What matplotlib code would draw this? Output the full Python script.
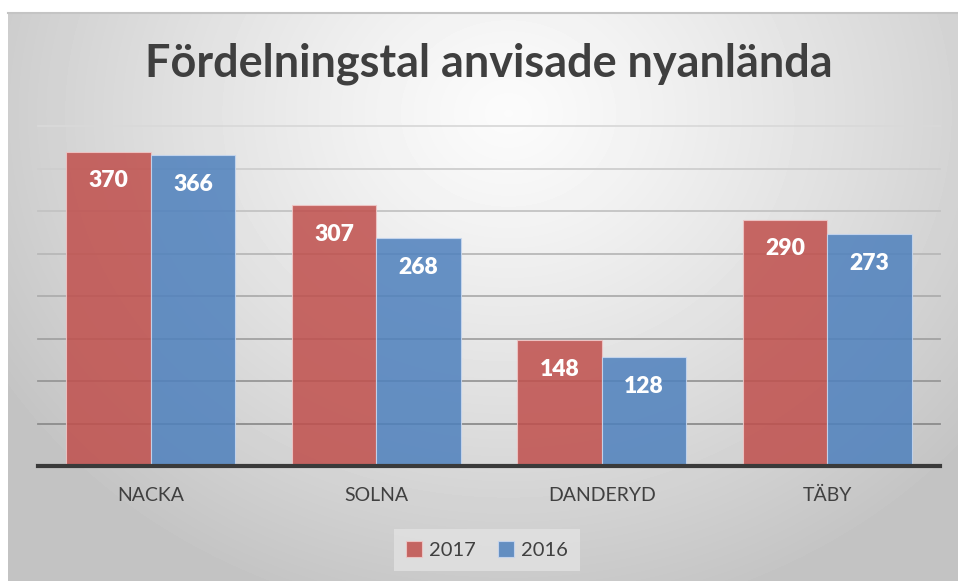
import numpy as np
import matplotlib.pyplot as plt

plt.rcParams['font.family'] = ['Lato', 'DejaVu Sans']

kommuner = ['NACKA', 'SOLNA', 'DANDERYD', 'TÄBY']
v2017 = [370, 307, 148, 290]
v2016 = [366, 268, 128, 273]

W, H = 958, 581
fig = plt.figure(figsize=(W / 100, H / 100), dpi=100)
fig.patch.set_facecolor('white')

# radial gradient background for the chart area
bg = fig.add_axes([8 / W, 0, 1 - 8 / W, (H - 13) / H])
bg.set_axis_off()
yy, xx = np.mgrid[0:568, 0:950]
r = np.sqrt(((xx - 500) / 600.0) ** 2 + ((yy - 100) / 520.0) ** 2)
r = np.clip(r, 0, 1)
val = 0.985 - 0.22 * r ** 1.2
bg.imshow(val, cmap='gray', vmin=0, vmax=1, aspect='auto',
          extent=[0, 1, 0, 1], origin='upper')
bg.plot([0, 1], [1, 1], color='#c4c4c4', lw=1.5, transform=bg.transAxes,
        clip_on=False)
bg.set_xlim(0, 1)
bg.set_ylim(0, 1)

ax = fig.add_axes([38 / W, 115 / H, 902 / W, 340 / H])
ax.patch.set_alpha(0)
for s in ax.spines.values():
    s.set_visible(False)

ticks = np.arange(50, 401, 50)
for i, t in enumerate(ticks):
    f = i / (len(ticks) - 1)
    c = 0.55 + 0.30 * f
    ax.axhline(t, color=(c, c, c), lw=1.3, zorder=1, clip_on=False)
ax.axhline(0, color='#3a3a3a', lw=3, zorder=4, clip_on=False)

x = np.arange(len(kommuner))
w = 0.375
b1 = ax.bar(x - w / 2, v2017, w, color='#C0504D', alpha=0.86,
            edgecolor='#f0c8c8', lw=0.8, zorder=2, label='2017')
b2 = ax.bar(x + w / 2, v2016, w, color='#4F81BD', alpha=0.86,
            edgecolor='#c8d8f0', lw=0.8, zorder=2, label='2016')

for bars in (b1, b2):
    for rect in bars:
        ax.annotate(f'{int(rect.get_height())}',
                    (rect.get_x() + rect.get_width() / 2, rect.get_height()),
                    xytext=(0, -21), textcoords='offset points',
                    ha='center', va='center', color='white',
                    fontsize=16.5, fontweight='heavy', zorder=5)

ax.set_xlim(-0.5, len(kommuner) - 0.5)
ax.set_ylim(0, 400)
ax.set_yticks([])
ax.set_xticks(x)
ax.set_xticklabels(kommuner, fontsize=14, color='#404040')
ax.tick_params(axis='x', length=0, pad=15)

fig.text(489 / W, 1 - 64 / H, 'Fördelningstal anvisade nyanlända',
         ha='center', va='center', fontsize=32.4, fontweight='bold',
         color='#3f3f3f')

leg = fig.legend(handles=[b1, b2], loc='center', ncol=2,
                 bbox_to_anchor=(487 / W, 1 - 550 / H), frameon=True,
                 fontsize=14.5, handlelength=0.8, handleheight=0.8,
                 handletextpad=0.35, columnspacing=1.1,
                 borderpad=0.6)
leg.get_frame().set_facecolor('#e2e2e2')
leg.get_frame().set_edgecolor('none')
leg.get_frame().set_boxstyle('square', pad=0)
for t in leg.get_texts():
    t.set_color('#404040')

fig.savefig('out.png', dpi=100)
